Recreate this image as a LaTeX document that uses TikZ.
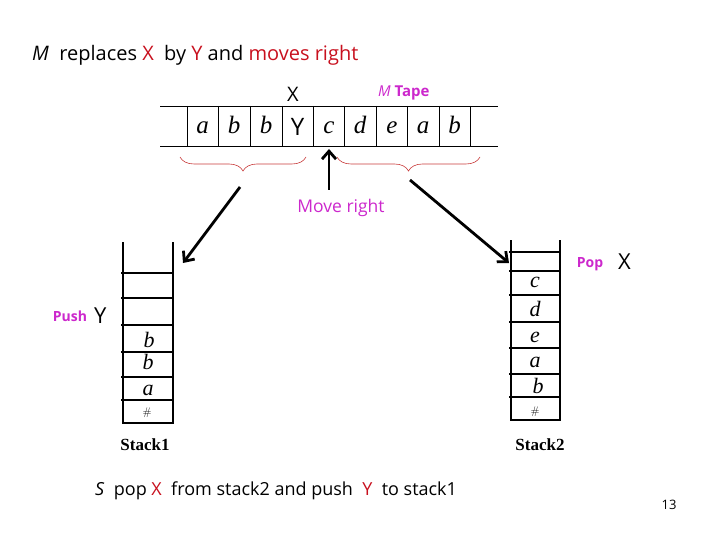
\documentclass[tikz,border=0pt]{standalone}
\usepackage{fontspec}
\newfontfamily\comic{Open Sans}
\newfontfamily\stackfont{Liberation Serif}
\usetikzlibrary{arrows.meta,decorations.pathreplacing}
\definecolor{slidered}{RGB}{200,16,30}
\definecolor{slidemag}{RGB}{204,40,204}
\definecolor{bracered}{RGB}{200,60,60}
\begin{document}
\begin{tikzpicture}[x=1pt,y=-1pt,font=\comic,
  stk/.style={line width=2.6pt},
  cell/.style={anchor=base,inner sep=0pt,font=\stackfont\itshape\fontsize{25}{27}\selectfont},
  item/.style={anchor=base,inner sep=0pt,font=\stackfont\itshape\fontsize{22}{24}\selectfont},
  hash/.style={anchor=base,inner sep=0pt,font=\fontsize{11}{13}\selectfont},
  note/.style={anchor=base,inner sep=0pt,text=slidemag,font=\comic\bfseries\fontsize{14}{16}\selectfont},
  sym/.style={anchor=base,inner sep=0pt,font=\comic\fontsize{22}{24}\selectfont},
  stackname/.style={anchor=base,inner sep=0pt,font=\stackfont\bfseries\fontsize{17}{19}\selectfont},
  bigarrow/.style={line width=2.8pt,-{Straight Barb[length=8pt,width=14pt]}},
  curly/.style={bracered,line width=0.6pt,decorate,decoration={brace,mirror,amplitude=14pt}}]
\useasboundingbox (0,0) rectangle (720,540);
% title
\node[anchor=base west,inner sep=0pt,font=\comic\fontsize{20}{22}\selectfont] (title) at (32,61)
  {\textit{M}\ \ replaces {\color{slidered}X}\ \ by {\color{slidered}Y} and {\color{slidered}moves right}};
% tape
\draw (160,106) -- (498,106);
\draw (160,146) -- (498,146);
\foreach \x in {187,218,250,282,313,344,376,407,439,470}{\draw (\x,106)--(\x,146);}
\foreach \i/\x/\l in {1/202.5/a,2/234/b,3/266/b,5/329/c,6/360/d,7/392/e,8/423/a,9/454.5/b}{
  \node[cell] (t\i) at (\x,134) {\l};}
\node[sym,font=\comic\fontsize{24}{26}\selectfont] (t4) at (297.5,136) {Y};
\node[sym,font=\comic\fontsize{20}{22}\selectfont] (xold) at (293,102) {X};
\node[anchor=base west,inner sep=0pt,text=slidemag,font=\comic\fontsize{15}{17}\selectfont] (tape) at (378,97)
  {\textit{M} \textbf{Tape}};
% braces
\coordinate (lb1) at (180,157);
\coordinate (lb2) at (306,157);
\coordinate (rb1) at (337,157);
\coordinate (rb2) at (480,157);
\draw[curly] (lb1) -- (lb2);
\draw[curly] (rb1) -- (rb2);
% move right
\coordinate (mv) at (329,190);
\coordinate (head) at (329,149);
\draw[bigarrow] (mv) -- (head);
\node[note,font=\comic\fontsize{17.5}{19}\selectfont] (move) at (341,212) {Move right};
% stack1
\draw[stk] (123,242) -- (123,423) -- (173,423) -- (173,242);
\foreach \y in {273,298,325,352,377,400}{\draw[stk] (121,\y)--(173,\y);}
\node[item] (s1b1) at (149,347) {b};
\node[item] (s1b2) at (148,369) {b};
\node[item] (s1a) at (148,395) {a};
\node[hash] (s1h) at (147,415) {\#};
\node[note] (push) at (70,321) {Push};
\node[sym,anchor=base west] (ypush) at (94,323) {Y};
\node[stackname] (stack1) at (145,450) {Stack1};
% stack2
\draw[stk] (511,240) -- (511,420) -- (560,420) -- (560,240);
\foreach \y in {252,271,295,322,348,374,397}{\draw[stk] (509,\y)--(560,\y);}
\node[item] (s2c) at (535,287) {c};
\node[item] (s2d) at (535,316) {d};
\node[item] (s2e) at (535,342) {e};
\node[item] (s2a) at (535,367) {a};
\node[item] (s2b) at (538,393) {b};
\node[hash] (s2h) at (535,414) {\#};
\node[note] (pop) at (590,267) {Pop};
\node[sym,anchor=base west] (xpop) at (618,269) {X};
\node[stackname] (stack2) at (540,450) {Stack2};
% arrows to the stacks
\coordinate (lt) at (240,187);
\coordinate (s1in) at (183,263);
\coordinate (rt) at (410,180);
\coordinate (s2in) at (509,263);
\draw[bigarrow] (lt) -- (s1in);
\draw[bigarrow] (rt) -- (s2in);
% bottom line
\node[anchor=base west,inner sep=0pt,font=\comic\fontsize{18}{20}\selectfont] (sline) at (95,495)
  {\textit{S}\ \ pop {\color{slidered}X}\ \ from stack2 and push \ {\color{slidered}Y}\ \ to stack1};
\node[anchor=base,inner sep=0pt,font=\comic\fontsize{13}{15}\selectfont] (pnum) at (669,509) {13};
\end{tikzpicture}
\end{document}
